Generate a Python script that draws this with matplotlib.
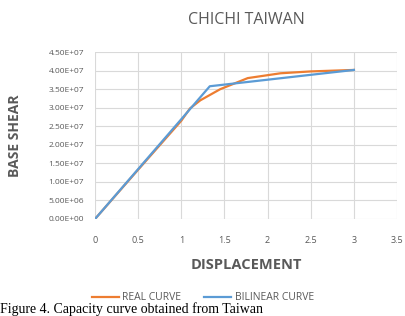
import matplotlib.pyplot as plt
from matplotlib.ticker import FuncFormatter, MultipleLocator

# Capacity curve data (displacement vs base shear)
real_disp = [0.0, 0.5, 1.0, 1.1, 1.22, 1.45, 1.77, 2.15, 2.5, 3.0]
real_shear = [0.0, 1.33e7, 2.65e7, 2.98e7, 3.2e7, 3.5e7, 3.8e7, 3.93e7, 3.98e7, 4.02e7]

bilinear_disp = [0.0, 1.33, 3.0]
bilinear_shear = [0.0, 3.58e7, 4.02e7]

TEXT = "#595959"
GRID = "#d9d9d9"

plt.rcParams["font.family"] = ["Open Sans", "DejaVu Sans"]

fig = plt.figure(figsize=(4.06, 3.16), dpi=100)
ax = fig.add_axes([0.234, 0.307, 0.744, 0.528])

ax.plot(real_disp, real_shear, color="#ED7D31", lw=1.6, label="REAL CURVE")
ax.plot(bilinear_disp, bilinear_shear, color="#5B9BD5", lw=1.6,
        label="BILINEAR CURVE")

ax.set_xlim(0, 3.5)
ax.set_ylim(0, 4.5e7)
ax.xaxis.set_major_locator(MultipleLocator(0.5))
ax.yaxis.set_major_locator(MultipleLocator(5e6))
ax.xaxis.set_major_formatter(FuncFormatter(lambda v, p: f"{v:g}"))
ax.yaxis.set_major_formatter(FuncFormatter(lambda v, p: f"{v:.2E}"))

ax.grid(True, color=GRID, lw=0.8)
ax.set_axisbelow(True)
for s in ax.spines.values():
    s.set_visible(False)
ax.tick_params(axis="y", length=0, labelsize=6, colors=TEXT, pad=8)
ax.tick_params(axis="x", length=0, labelsize=6.5, colors=TEXT, pad=12)

ax.set_title("CHICHI TAIWAN", fontsize=11.5, color=TEXT, pad=20)
ax.set_xlabel("DISPLACEMENT", fontsize=10.5, fontweight="bold", color=TEXT)
ax.set_ylabel("BASE SHEAR", fontsize=10, fontweight="bold", color=TEXT)
ax.xaxis.set_label_coords(0.5, -(258 - 219) / 167)
ax.yaxis.set_label_coords(-(95 - 22) / 302, 0.5)

fig.legend(loc="center", bbox_to_anchor=(0.5, 1 - 298 / 316), ncol=2,
           frameon=False, fontsize=7.5, labelcolor=TEXT, handlelength=2.6,
           columnspacing=2.2, handletextpad=0.3)

fig.text(0.0, 0.0, "Figure 4. Capacity curve obtained from Taiwan",
         family="Liberation Serif", fontsize=10, va="bottom", ha="left")

fig.savefig("out.png", dpi=100, facecolor="white")
